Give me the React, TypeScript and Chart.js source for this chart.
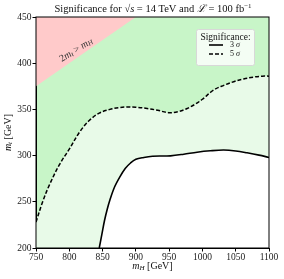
import React, { useEffect, useRef } from "react";
import { Chart, registerables } from "chart.js";

Chart.register(...registerables);

const xTicks = [750, 800, 850, 900, 950, 1000, 1050, 1100];
const yTicks = [200, 250, 300, 350, 400, 450];

const mH5 = [750, 760, 770, 785, 800, 816, 830, 845, 861, 875, 887, 900, 917, 933, 949, 963, 977, 990, 1000, 1017, 1032, 1047, 1062, 1077, 1090, 1100];
const mt5 = [228, 250, 268, 290, 307, 326, 338, 346, 350, 352, 352.6, 352.3, 351, 349, 346.5, 347.5, 351, 356, 361, 371, 376, 380, 383, 385, 386, 386];

const mH3 = [845, 849, 853, 857, 861, 868, 876, 884, 892, 900, 912, 925, 940, 952, 972, 992, 1012, 1032, 1050, 1067, 1085, 1100];
const mt3 = [200, 215, 230, 242, 252, 266, 277, 286, 292, 296, 298, 299.3, 299.6, 299.7, 301.5, 303.7, 305.2, 306, 305, 303, 300.5, 298];

const mHr = [750, 900];
const mtr = [375, 450];

const SERIF = "'Liberation Serif', 'DejaVu Serif', serif";

type Seg = { t: string; f: string; dy?: number };

function drawRich(ctx: CanvasRenderingContext2D, segs: Seg[], cx: number, cy: number) {
  let total = 0;
  for (const s of segs) {
    ctx.font = s.f;
    total += ctx.measureText(s.t).width;
  }
  let x = cx - total / 2;
  ctx.textBaseline = "middle";
  ctx.textAlign = "left";
  for (const s of segs) {
    ctx.font = s.f;
    ctx.fillText(s.t, x, cy + (s.dy || 0));
    x += ctx.measureText(s.t).width;
  }
}

const decorPlugin = {
  id: "decor",
  beforeDraw(chart: any) {
    const { ctx, chartArea: a } = chart;
    ctx.save();
    ctx.fillStyle = "#c8f5c8";
    ctx.fillRect(a.left, a.top, a.right - a.left, a.bottom - a.top);
    ctx.restore();
  },
  afterDraw(chart: any) {
    const { ctx, chartArea: a } = chart;
    ctx.save();
    // frame
    ctx.strokeStyle = "#000";
    ctx.lineWidth = 1;
    ctx.strokeRect(a.left, a.top, a.right - a.left, a.bottom - a.top);

    ctx.fillStyle = "#111";
    const n = `10.5px ${SERIF}`;
    const it = `italic 10.5px ${SERIF}`;
    const sm = `7px ${SERIF}`;
    const smi = `italic 7px ${SERIF}`;
    const n10 = `10px ${SERIF}`;
    const it10 = `italic 10px ${SERIF}`;
    // title
    drawRich(
      ctx,
      [
        { t: "Significance for ", f: n },
        { t: "√", f: n },
        { t: "s", f: it },
        { t: " = 14 TeV and ", f: n },
        { t: "ℒ", f: it },
        { t: " = 100 fb", f: n },
        { t: "−1", f: sm, dy: -3 },
      ],
      153,
      9
    );
    // x title
    drawRich(
      ctx,
      [
        { t: "m", f: it10 },
        { t: "H", f: smi, dy: 2 },
        { t: " [GeV]", f: n10 },
      ],
      (a.left + a.right) / 2,
      266
    );
    // y title
    ctx.save();
    ctx.translate(8, (a.top + a.bottom) / 2);
    ctx.rotate(-Math.PI / 2);
    drawRich(
      ctx,
      [
        { t: "m", f: it10 },
        { t: "t", f: smi, dy: 2 },
        { t: " [GeV]", f: n10 },
      ],
      0,
      0
    );
    ctx.restore();

    // red region label
    ctx.save();
    ctx.translate(76, 50);
    ctx.rotate(-32 * Math.PI / 180);
    ctx.fillStyle = "#333";
    drawRich(
      ctx,
      [
        { t: "2", f: `10px ${SERIF}` },
        { t: "m", f: `italic 10px ${SERIF}` },
        { t: "t", f: `italic 7px ${SERIF}`, dy: 2 },
        { t: " > ", f: `10px ${SERIF}` },
        { t: "m", f: `italic 10px ${SERIF}` },
        { t: "H", f: `italic 7px ${SERIF}`, dy: 2 },
      ],
      0,
      0
    );
    ctx.restore();

    // legend
    const lx = 196, ly = 29, lw = 58, lh = 36;
    ctx.fillStyle = "rgba(255,255,255,0.8)";
    ctx.strokeStyle = "#d8d8d8";
    ctx.lineWidth = 1;
    ctx.beginPath();
    (ctx as any).roundRect(lx + 0.5, ly + 0.5, lw, lh, 2);
    ctx.fill();
    ctx.stroke();
    ctx.fillStyle = "#111";
    drawRich(ctx, [{ t: "Significance:", f: `9.5px ${SERIF}` }], lx + lw / 2 + 0.5, ly + 8);
    ctx.strokeStyle = "#000";
    ctx.lineWidth = 1.6;
    ctx.beginPath();
    ctx.moveTo(209, 45);
    ctx.lineTo(223, 45);
    ctx.stroke();
    ctx.setLineDash([4, 2]);
    ctx.beginPath();
    ctx.moveTo(209, 54);
    ctx.lineTo(223, 54);
    ctx.stroke();
    ctx.setLineDash([]);
    ctx.fillStyle = "#111";
    ctx.textAlign = "left";
    ctx.textBaseline = "middle";
    ctx.font = `8px ${SERIF}`;
    ctx.fillText("3", 230, 45);
    ctx.fillText("5", 230, 54);
    ctx.font = `italic 8px ${SERIF}`;
    ctx.fillText("σ", 236, 45);
    ctx.fillText("σ", 236, 54);
    ctx.restore();
  },
};

export default function App() {
  const ref = useRef<HTMLCanvasElement | null>(null);
  useEffect(() => {
    if (!ref.current) return;
    const toPts = (xs: number[], ys: number[]) => xs.map((x, i) => ({ x, y: ys[i] }));
    const chart = new Chart(ref.current, {
      type: "line",
      data: {
        datasets: [
          {
            label: "3 σ",
            data: toPts(mH3, mt3),
            borderColor: "#000",
            borderWidth: 1.6,
            backgroundColor: "#ffffff",
            fill: "start",
            pointRadius: 0,
            tension: 0.35,
          },
          {
            label: "5 σ",
            data: toPts(mH5, mt5),
            borderColor: "#000",
            borderWidth: 1.5,
            borderDash: [4, 2],
            backgroundColor: "#e8fae8",
            fill: "start",
            pointRadius: 0,
            tension: 0.35,
          },
          {
            label: "2mt > mH",
            data: toPts(mHr, mtr),
            borderColor: "rgba(0,0,0,0)",
            borderWidth: 0,
            backgroundColor: "#ffcaca",
            fill: "end",
            pointRadius: 0,
            tension: 0,
          },
        ],
      },
      options: {
        responsive: false,
        animation: false,
        layout: { padding: { left: 0, right: 15, top: 17, bottom: 0 } },
        plugins: {
          legend: { display: false },
          tooltip: { enabled: false },
          filler: { drawTime: "beforeDatasetsDraw" } as any,
        },
        scales: {
          x: {
            type: "linear",
            min: 750,
            max: 1100,
            afterBuildTicks: (s: any) => {
              s.ticks = xTicks.map((v) => ({ value: v }));
            },
            afterFit: (s: any) => {
              s.height = 31;
            },
            grid: { display: true, drawOnChartArea: false, drawTicks: true, tickLength: 3.5, color: "#000" },
            border: { display: true, color: "#000", width: 1 },
            ticks: {
              padding: 0,
              maxRotation: 0,
              autoSkip: false,
              color: "#222",
              font: { family: SERIF, size: 9.5 },
              callback: (v: any) => String(v),
            },
          },
          y: {
            type: "linear",
            min: 200,
            max: 450,
            afterBuildTicks: (s: any) => {
              s.ticks = yTicks.map((v) => ({ value: v }));
            },
            afterFit: (s: any) => {
              s.width = 36;
            },
            grid: { display: true, drawOnChartArea: false, drawTicks: true, tickLength: 3.5, color: "#000" },
            border: { display: true, color: "#000", width: 1 },
            ticks: {
              padding: 1,
              autoSkip: false,
              color: "#222",
              font: { family: SERIF, size: 9.5 },
              callback: (v: any) => String(v),
            },
          },
        },
      },
      plugins: [decorPlugin],
    });
    return () => chart.destroy();
  }, []);
  return (
    <div style={{ position: "absolute", left: 0, top: 0, width: 284, height: 279 }}>
      <canvas ref={ref} width={284} height={279} style={{ width: 284, height: 279, display: "block" }} />
    </div>
  );
}
